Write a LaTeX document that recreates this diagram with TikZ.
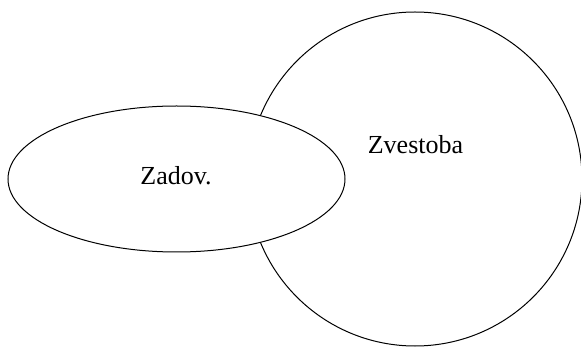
\documentclass[tikz,border=0pt]{standalone}
\usepackage{fontspec}
\setmainfont{Liberation Serif}
\usetikzlibrary{shapes.geometric}
\tikzset{
  shape line/.style={draw=black, line width=1pt, fill=white, inner sep=0pt},
  lbl/.style={font=\fontsize{26}{30}\selectfont, inner sep=0pt, anchor=base}
}
\begin{document}
\begin{tikzpicture}[x=1pt,y=-1pt]
\useasboundingbox (0,0) rectangle (581,347);
\node[shape line, circle, minimum size=334pt] (zv) at (415,179) {};
\node[shape line, ellipse, minimum width=337pt, minimum height=146pt] (za) at (176.5,179) {};
\node[lbl] (zvt) at (415.5,154) {Zvestoba};
\node[lbl] (zat) at (176,185) {Zadov.};
\end{tikzpicture}
\end{document}
